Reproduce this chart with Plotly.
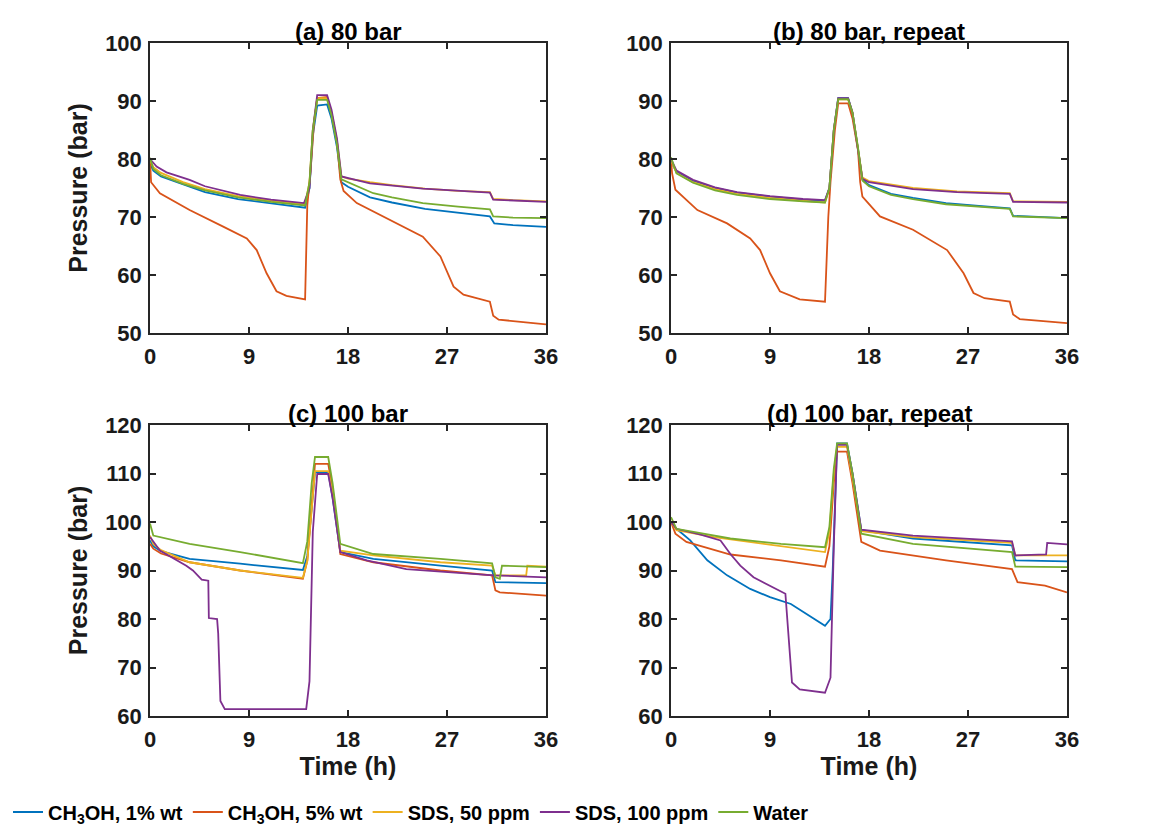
import plotly.graph_objects as go
from plotly.subplots import make_subplots

# series names and colours (MATLAB default order)
names = ["CH<sub>3</sub>OH, 1% wt", "CH<sub>3</sub>OH, 5% wt", "SDS, 50 ppm", "SDS, 100 ppm", "Water"]
colors = ["#0072BD", "#D95319", "#EDB120", "#7E2F8E", "#77AC30"]

time_ticks = [0, 9, 18, 27, 36]

# (a) 80 bar -- (time h, pressure bar)
a_ch3oh1 = [(0, 79.2), (0.3, 78), (1, 77), (3, 75.6), (5, 74.3), (8, 73.1), (11, 72.3), (14.1, 71.6),
            (14.5, 75), (14.8, 84), (15.2, 89.2), (16.1, 89.4), (16.5, 87), (17, 82), (17.4, 76),
            (18, 75.2), (20, 73.4), (22, 72.5), (25, 71.4), (28, 70.7), (30.9, 70.1), (31.3, 68.9),
            (33, 68.6), (36, 68.3)]
a_ch3oh5 = [(0, 80), (0.1, 76), (0.9, 74.1), (3.6, 71.2), (6.7, 68.3), (8.8, 66.3), (9.7, 64.3),
            (10.6, 60.3), (11.5, 57.2), (12.4, 56.4), (14.1, 55.8), (14.3, 72), (14.6, 78), (14.9, 86),
            (15.2, 90.5), (16.1, 90.7), (16.5, 88), (17, 83), (17.3, 76.5), (17.6, 74.5), (18.8, 72.4),
            (21.8, 69.5), (24.8, 66.6), (26.4, 63.2), (27.6, 58), (28.5, 56.6), (30.9, 55.4),
            (31.2, 53), (31.7, 52.3), (36, 51.5)]
a_sds50 = [(0, 79.8), (0.3, 78.6), (1, 77.6), (3, 76), (5, 74.8), (8, 73.6), (11, 72.8), (14.1, 72.2),
           (14.5, 76), (14.8, 85), (15.2, 90.5), (16.1, 90.5), (16.5, 88), (17, 83), (17.4, 77),
           (18, 76.6), (20, 76), (22, 75.5), (25, 74.9), (28, 74.5), (30.9, 74.3), (31.2, 73.1),
           (33, 72.9), (36, 72.7)]
a_sds100 = [(0, 80), (0.6, 78.7), (1.5, 77.7), (3.6, 76.4), (5, 75.3), (8.2, 73.8), (11, 73.0), (14, 72.4),
            (14.5, 75), (14.8, 85), (15.2, 91), (16.1, 91), (16.5, 88.5), (17, 83.5), (17.4, 77),
            (20, 75.8), (24.8, 74.9), (30.9, 74.2), (31.2, 73), (36, 72.6)]
a_water = [(0, 80.2), (0.3, 78.3), (1, 77.2), (3, 75.7), (5, 74.6), (8, 73.4), (11, 72.6), (14.1, 72.0),
           (14.5, 76), (14.8, 85), (15.2, 90.2), (16.1, 90.2), (16.5, 87.5), (17, 82.5), (17.4, 76.5),
           (18, 76), (20.3, 74.1), (22, 73.4), (24.8, 72.4), (28, 71.8), (30.9, 71.3), (31.2, 70.1),
           (33, 69.9), (36, 69.8)]

# (b) 80 bar, repeat
b_ch3oh1 = [(0, 79.5), (0.5, 77.8), (2, 76.2), (4, 75), (6, 74.2), (9, 73.5), (12, 73.0), (14, 72.8),
            (14.4, 75), (14.8, 85), (15.2, 90.5), (16.1, 90.5), (16.5, 88), (17, 82), (17.4, 76.5),
            (18, 75.5), (20, 74), (22, 73.3), (25, 72.4), (28, 71.9), (30.8, 71.5), (31.1, 70.2),
            (33, 70), (36, 69.8)]
b_ch3oh5 = [(0, 80), (0.1, 77.5), (0.4, 74.7), (2.4, 71.2), (5.1, 68.9), (7.2, 66.3), (8.1, 64.3),
            (9, 60.3), (9.9, 57.2), (11.7, 55.8), (14, 55.4), (14.3, 70), (14.5, 76), (14.9, 85),
            (15.2, 89.6), (16.1, 89.6), (16.5, 87), (17, 81.5), (17.2, 76), (17.4, 73.5), (19, 70.1),
            (22, 67.8), (25.1, 64.3), (26.6, 60.3), (27.5, 56.9), (28.5, 56), (30.8, 55.4),
            (31.1, 53.2), (31.7, 52.4), (36, 51.7)]
b_sds50 = [(0, 79.8), (0.5, 77.6), (2, 76), (4, 74.8), (6, 74), (9, 73.3), (12, 72.8), (14, 72.5),
           (14.4, 75), (14.8, 85), (15.2, 90.3), (16.1, 90.3), (16.5, 88), (17, 82), (17.4, 76.8),
           (18, 76.2), (22, 75), (26, 74.4), (30.8, 74.1), (31.1, 72.7), (36, 72.6)]
b_sds100 = [(0, 80), (0.5, 78), (2, 76.4), (4, 75.1), (6, 74.3), (9, 73.6), (12, 73.1), (14, 72.9),
            (14.4, 75), (14.8, 85), (15.2, 90.5), (16.1, 90.5), (16.5, 88), (17, 82), (17.4, 76.6),
            (18, 76), (22, 74.8), (26, 74.3), (30.8, 74), (31.1, 72.6), (36, 72.5)]
b_water = [(0, 80.3), (0.5, 77.5), (2, 75.9), (4, 74.6), (6, 73.8), (9, 73.1), (12, 72.7), (14, 72.5),
           (14.4, 75), (14.8, 85), (15.2, 90.3), (16.1, 90.3), (16.5, 88), (17, 82), (17.4, 76.3),
           (18, 75.3), (20, 73.8), (22, 73.1), (25, 72.2), (28, 71.8), (30.8, 71.4), (31.1, 70.1),
           (36, 69.8)]

# (c) 100 bar
c_ch3oh1 = [(0, 96.2), (0.3, 95), (1, 94), (3.6, 92.4), (8.2, 91.4), (13.9, 90.1), (14.3, 93),
            (14.7, 103), (15, 110.3), (16.2, 110.3), (16.6, 105), (17.3, 93.8), (20.3, 92.4),
            (26.4, 91), (31.1, 90), (31.4, 87.6), (36, 87.4)]
c_ch3oh5 = [(0, 95.5), (0.3, 94.5), (1, 93.5), (3.6, 91.7), (8.2, 90), (13.9, 88.3), (14.3, 92),
            (14.7, 103), (15, 112), (16.2, 112), (16.6, 107), (17.3, 93.4), (20.3, 91.7), (26.4, 90),
            (31.1, 89), (31.4, 85.9), (31.8, 85.5), (36, 84.8)]
c_sds50 = [(0, 97.2), (0.3, 95.5), (1, 94.2), (3.6, 91.7), (8.2, 90), (13.9, 88.5), (14.3, 92),
           (14.7, 103), (15, 110.5), (16.2, 110.5), (16.6, 106), (17.3, 94.1), (20.3, 93.1),
           (26.4, 91.7), (31.1, 91), (31.4, 89), (34.2, 89), (34.3, 91), (36, 90.8)]
c_sds100 = [(0, 96.9), (0.9, 94.1), (3.3, 91), (3.9, 90), (4.7, 88.1), (5.3, 87.9), (5.35, 80.2),
            (6.1, 80), (6.2, 77), (6.4, 63.1), (6.8, 61.4), (14.2, 61.4), (14.5, 67.2), (14.8, 98),
            (15.2, 109.9), (16.2, 109.9), (16.6, 105), (17.3, 93.8), (19.7, 92.1), (23.3, 90.3),
            (31.2, 89), (36, 88.6)]
c_water = [(0, 99.7), (0.3, 97.2), (3.6, 95.5), (8.2, 93.8), (13.9, 91.5), (14.3, 96), (14.7, 108),
           (15, 113.4), (16.2, 113.4), (16.6, 108), (17.3, 95.5), (20.3, 93.4), (26.4, 92.4),
           (31.1, 91.5), (31.4, 88.6), (31.8, 88.3), (32, 91), (36, 90.7)]

# (d) 100 bar, repeat
d_ch3oh1 = [(0, 100), (0.5, 98.6), (1.75, 96.2), (3.3, 92.1), (5.1, 89), (7.2, 86.2), (9, 84.5),
            (10.9, 83.1), (14, 78.6), (14.5, 80), (14.7, 90), (15.1, 116.2), (16, 116.2), (16.5, 110),
            (17.3, 98.3), (22, 96.6), (31, 95.2), (31.3, 92.1), (36, 91.9)]
d_ch3oh5 = [(0, 100), (0.4, 97.6), (1.4, 95.9), (5.4, 93.3), (10, 92.1), (14, 90.8), (14.4, 95),
            (14.8, 108), (15.1, 114.5), (16, 114.5), (16.5, 108), (17.3, 95.9), (19, 94.1), (25, 92.1),
            (31, 90.3), (31.5, 87.6), (34, 86.9), (36, 85.5)]
d_sds50 = [(0, 100), (0.5, 98.3), (3.9, 96.9), (10, 95), (14, 93.8), (14.4, 98), (14.8, 110),
           (15.1, 115.5), (16, 115.5), (16.5, 109), (17.3, 98.1), (22, 96.9), (31, 95.7), (31.3, 93.1),
           (36, 93.1)]
d_sds100 = [(0, 100), (0.5, 98.6), (2.7, 97.4), (4.5, 96.2), (5.4, 93.4), (6.3, 91), (7.5, 88.6),
            (9, 86.9), (10.4, 85.2), (11, 66.9), (11.7, 65.5), (14, 64.8), (14.5, 67.9), (14.8, 95),
            (15.1, 115.9), (16, 115.9), (16.5, 110), (17.3, 98.4), (22, 97.2), (31, 96), (31.3, 93.1),
            (34.1, 93.3), (34.2, 95.7), (36, 95.4)]
d_water = [(0, 101), (0.5, 98.6), (5.4, 96.6), (10, 95.5), (14, 94.8), (14.4, 99), (14.8, 111),
           (15.1, 116.2), (16, 116.2), (16.5, 110), (17.3, 97.6), (22, 95.5), (31, 93.8), (31.3, 90.8),
           (36, 90.7)]

panels = [
    [a_ch3oh1, a_ch3oh5, a_sds50, a_sds100, a_water],
    [b_ch3oh1, b_ch3oh5, b_sds50, b_sds100, b_water],
    [c_ch3oh1, c_ch3oh5, c_sds50, c_sds100, c_water],
    [d_ch3oh1, d_ch3oh5, d_sds50, d_sds100, d_water],
]
titles = ["(a) 80 bar", "(b) 80 bar, repeat", "(c) 100 bar", "(d) 100 bar, repeat"]

fig = make_subplots(rows=2, cols=2)

for i, series in enumerate(panels):
    row, col = i // 2 + 1, i % 2 + 1
    for j, pts in enumerate(series):
        fig.add_trace(go.Scatter(
            x=[p[0] for p in pts], y=[p[1] for p in pts], mode="lines",
            name=names[j], legendgroup=names[j], showlegend=(i == 0),
            line=dict(color=colors[j], width=1.8)),
            row=row, col=col)

W, H = 1163, 831
OFF = 8  # page body margin shifts the figure in the window
xdom_left = [(150 - OFF) / W, (546 - OFF) / W]
xdom_right = [(671 - OFF) / W, (1067 - OFF) / W]
ydom_top = [1 - (333 - OFF) / H, 1 - (43 - OFF) / H]
ydom_bot = [1 - (716 - OFF) / H, 1 - (425 - OFF) / H]

bold = dict(family="Liberation Sans", color="#1a1a1a", weight="bold")
axis_style = dict(showline=True, mirror="ticks", linecolor="#262626", linewidth=1.5,
                  ticks="inside", ticklen=6, tickcolor="#262626", tickwidth=1.5,
                  showgrid=False, zeroline=False, automargin=False,
                  tickfont=dict(size=22, **bold))

fig.update_xaxes(range=[0, 36], tickvals=time_ticks, ticklabelstandoff=3, **axis_style)
fig.update_yaxes(dtick=10, ticklabelstandoff=2, **axis_style)

fig.update_layout(
    xaxis=dict(domain=xdom_left), yaxis=dict(domain=ydom_top, range=[50, 100]),
    xaxis2=dict(domain=xdom_right), yaxis2=dict(domain=ydom_top, range=[50, 100]),
    xaxis3=dict(domain=xdom_left), yaxis3=dict(domain=ydom_bot, range=[60, 120]),
    xaxis4=dict(domain=xdom_right), yaxis4=dict(domain=ydom_bot, range=[60, 120]),
)

fig.update_yaxes(title_text="Pressure (bar)", title_font=dict(size=25, **bold), title_standoff=10, col=1)
fig.update_xaxes(title_text="Time (h)", title_font=dict(size=25, **bold), title_standoff=0, row=2)

# panel titles above each box
doms = [(xdom_left, ydom_top), (xdom_right, ydom_top), (xdom_left, ydom_bot), (xdom_right, ydom_bot)]
for t, (xd, yd) in zip(titles, doms):
    fig.add_annotation(text=t, x=(xd[0] + xd[1]) / 2, y=yd[1], xref="paper", yref="paper",
                       xanchor="center", yanchor="bottom", showarrow=False, yshift=-4,
                       font=dict(size=24, family="Liberation Sans", color="black", weight="bold"))

fig.update_layout(
    width=W, height=H,
    margin=dict(l=0, r=0, t=0, b=0),
    paper_bgcolor="white", plot_bgcolor="white",
    legend=dict(orientation="h", x=0, xanchor="left", y=1 - (812 - OFF) / H, yanchor="middle",
                font=dict(size=20, family="Liberation Sans", color="black", weight="bold"),
                itemwidth=30, tracegroupgap=0),
)

fig.write_html("out.html")
